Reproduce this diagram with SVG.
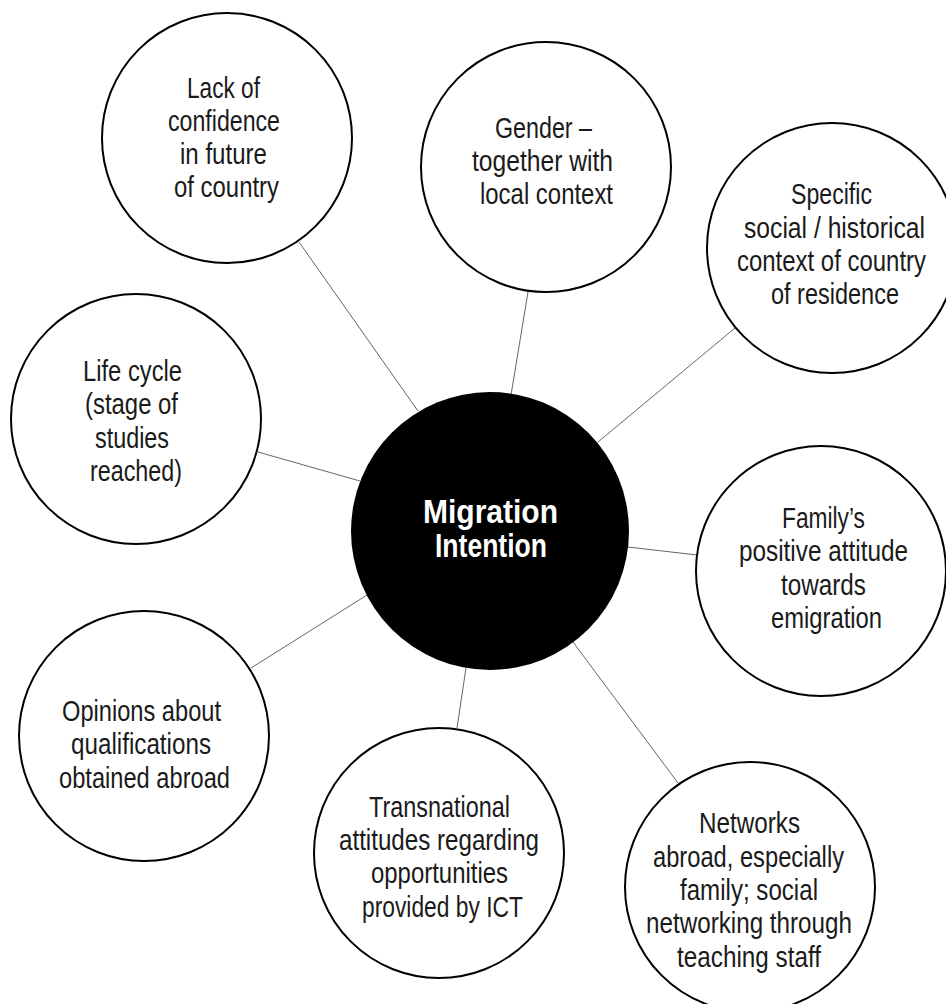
<svg xmlns="http://www.w3.org/2000/svg" width="946" height="1004" viewBox="0 0 946 1004">
<style>
.n{fill:#fff;stroke:#000;stroke-width:2}
.t{font-family:"Liberation Sans",Arial,sans-serif;font-size:29px;fill:#1a1a1a;text-anchor:middle}
.c{font-family:"Liberation Sans",Arial,sans-serif;font-size:34px;font-weight:bold;fill:#fff;text-anchor:middle}
.l{stroke:#555;stroke-width:0.9;fill:none}
</style>
<rect width="946" height="1004" fill="#fff"/>
<g id="connectors">
<line class="l" x1="299" y1="242" x2="418" y2="411"/>
<line class="l" x1="528" y1="292" x2="511" y2="395"/>
<line class="l" x1="735" y1="328" x2="598" y2="442"/>
<line class="l" x1="258" y1="452" x2="360" y2="481"/>
<line class="l" x1="628" y1="547" x2="697" y2="555"/>
<line class="l" x1="367" y1="595" x2="251" y2="668"/>
<line class="l" x1="466" y1="668" x2="457" y2="728"/>
<line class="l" x1="573" y1="642" x2="678" y2="783"/>
</g>
<g id="lack">
<circle class="n" cx="227" cy="138" r="125"/>
<text class="t" x="223.5" y="98" textLength="73" lengthAdjust="spacingAndGlyphs">Lack of</text>
<text class="t" x="224" y="131" textLength="112" lengthAdjust="spacingAndGlyphs">confidence</text>
<text class="t" x="223.5" y="164" textLength="87" lengthAdjust="spacingAndGlyphs">in future</text>
<text class="t" x="226.5" y="197" textLength="105" lengthAdjust="spacingAndGlyphs">of country</text>
</g>
<g id="gender">
<circle class="n" cx="546" cy="167" r="125"/>
<text class="t" x="543.5" y="138" textLength="97" lengthAdjust="spacingAndGlyphs">Gender –</text>
<text class="t" x="542.5" y="171" textLength="141" lengthAdjust="spacingAndGlyphs">together with</text>
<text class="t" x="546.5" y="204" textLength="133" lengthAdjust="spacingAndGlyphs">local context</text>
</g>
<g id="specific">
<circle class="n" cx="832" cy="248" r="125"/>
<text class="t" x="831.5" y="204" textLength="81" lengthAdjust="spacingAndGlyphs">Specific</text>
<text class="t" x="834.5" y="238" textLength="181" lengthAdjust="spacingAndGlyphs">social / historical</text>
<text class="t" x="831.5" y="271" textLength="189" lengthAdjust="spacingAndGlyphs">context of country</text>
<text class="t" x="835" y="304" textLength="128" lengthAdjust="spacingAndGlyphs">of residence</text>
</g>
<g id="lifecycle">
<circle class="n" cx="136" cy="419" r="125"/>
<text class="t" x="132.5" y="381" textLength="99" lengthAdjust="spacingAndGlyphs">Life cycle</text>
<text class="t" x="131.5" y="414" textLength="93" lengthAdjust="spacingAndGlyphs">(stage of</text>
<text class="t" x="132" y="448" textLength="74" lengthAdjust="spacingAndGlyphs">studies</text>
<text class="t" x="136" y="481" textLength="92" lengthAdjust="spacingAndGlyphs">reached)</text>
</g>
<g id="center">
<circle cx="490" cy="531" r="139" fill="#000"/>
<text class="c" x="490.5" y="523" textLength="135" lengthAdjust="spacingAndGlyphs">Migration</text>
<text class="c" x="491" y="557" textLength="112" lengthAdjust="spacingAndGlyphs">Intention</text>
</g>
<g id="family">
<circle class="n" cx="821" cy="571" r="125"/>
<text class="t" x="823.5" y="528" textLength="83" lengthAdjust="spacingAndGlyphs">Family’s</text>
<text class="t" x="823.5" y="561" textLength="169" lengthAdjust="spacingAndGlyphs">positive attitude</text>
<text class="t" x="823.5" y="595" textLength="85" lengthAdjust="spacingAndGlyphs">towards</text>
<text class="t" x="826.5" y="628" textLength="111" lengthAdjust="spacingAndGlyphs">emigration</text>
</g>
<g id="opinions">
<circle class="n" cx="144" cy="736" r="125"/>
<text class="t" x="141.5" y="721" textLength="159" lengthAdjust="spacingAndGlyphs">Opinions about</text>
<text class="t" x="141" y="754" textLength="140" lengthAdjust="spacingAndGlyphs">qualifications</text>
<text class="t" x="144.5" y="788" textLength="171" lengthAdjust="spacingAndGlyphs">obtained abroad</text>
</g>
<g id="transnational">
<circle class="n" cx="439" cy="853" r="125"/>
<text class="t" x="439.5" y="817" textLength="141" lengthAdjust="spacingAndGlyphs">Transnational</text>
<text class="t" x="439" y="850" textLength="200" lengthAdjust="spacingAndGlyphs">attitudes regarding</text>
<text class="t" x="439.5" y="883" textLength="137" lengthAdjust="spacingAndGlyphs">opportunities</text>
<text class="t" x="442.5" y="917" textLength="161" lengthAdjust="spacingAndGlyphs">provided by ICT</text>
</g>
<g id="networks">
<circle class="n" cx="750" cy="887" r="125"/>
<text class="t" x="749.5" y="833" textLength="101" lengthAdjust="spacingAndGlyphs">Networks</text>
<text class="t" x="748.5" y="867" textLength="191" lengthAdjust="spacingAndGlyphs">abroad, especially</text>
<text class="t" x="749" y="900" textLength="138" lengthAdjust="spacingAndGlyphs">family; social</text>
<text class="t" x="749" y="933" textLength="206" lengthAdjust="spacingAndGlyphs">networking through</text>
<text class="t" x="749" y="967" textLength="144" lengthAdjust="spacingAndGlyphs">teaching staff</text>
</g>
</svg>
